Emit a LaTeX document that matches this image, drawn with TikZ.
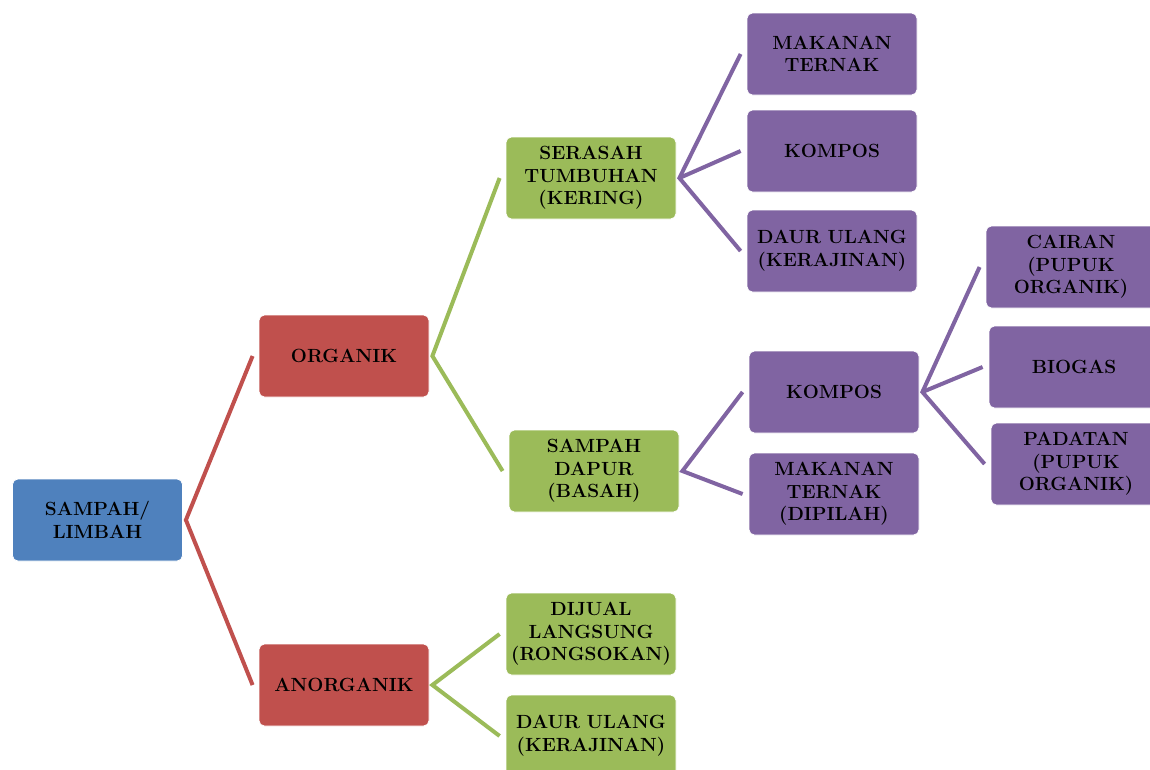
\documentclass[tikz,border=0pt]{standalone}
\usepackage{fontspec}
\definecolor{biru}{HTML}{4F81BD}
\definecolor{merah}{HTML}{C0504D}
\definecolor{hijau}{HTML}{9BBB59}
\definecolor{ungu}{HTML}{8064A2}
\tikzset{
  kotak/.style={rectangle, rounded corners=4pt, draw=white, line width=0.6pt, fill=#1,
    minimum width=127.5pt, minimum height=61.5pt, text width=127pt, align=center,
    inner sep=0pt, font=\fontsize{14.3}{17}\selectfont\bfseries},
  garis/.style={draw=#1, line width=3pt, line join=miter}
}

\begin{document}
\begin{tikzpicture}[x=0.75pt, y=-0.75pt]
        \useasboundingbox (0,0) rectangle (1150,769);

        \node[kotak=biru] (limbah) at (97.5,520) {SAMPAH/\\LIMBAH};
        \node[kotak=merah] (organik) at (344,356) {ORGANIK};
        \node[kotak=merah] (anorganik) at (344,685) {ANORGANIK};

        \node[kotak=hijau] (serasah) at (591,178) {SERASAH\\TUMBUHAN\\(KERING)};
        \node[kotak=hijau] (dapur) at (594,471) {SAMPAH\\DAPUR\\(BASAH)};
        \node[kotak=hijau] (dijual) at (591,634) {DIJUAL\\LANGSUNG\\(RONGSOKAN)};
        \node[kotak=hijau] (daurA) at (591,736) {DAUR ULANG\\(KERAJINAN)};

        \node[kotak=ungu] (ternakA) at (832,54) {MAKANAN\\TERNAK};
        \node[kotak=ungu] (komposA) at (832,151) {KOMPOS};
        \node[kotak=ungu] (daurB) at (832,251) {DAUR ULANG\\(KERAJINAN)};
        \node[kotak=ungu] (komposB) at (834,392) {KOMPOS};
        \node[kotak=ungu] (ternakB) at (834,494) {MAKANAN\\TERNAK\\(DIPILAH)};

        \node[kotak=ungu] (cairan) at (1071,267) {CAIRAN\\(PUPUK\\ORGANIK)};
        \node[kotak=ungu] (biogas) at (1074,367) {BIOGAS};
        \node[kotak=ungu] (padatan) at (1076,464) {PADATAN\\(PUPUK\\ORGANIK)};

        \foreach \p in {limbah, organik, anorganik, serasah, dapur, komposB}
        \coordinate (j-\p) at ([xshift=2.25pt]\p.east);

        \foreach \p/\a/\b/\c in {limbah/organik/anorganik/merah, organik/serasah/dapur/hijau,
          anorganik/dijual/daurA/hijau, serasah/ternakA/daurB/ungu, dapur/komposB/ternakB/ungu,
          komposB/cairan/padatan/ungu}
        \draw[garis=\c] ([xshift=-4.5pt]\a.west) -- (j-\p) -- ([xshift=-4.5pt]\b.west);

        \draw[garis=ungu] (j-serasah) -- ([xshift=-4.5pt]komposA.west);
        \draw[garis=ungu] (j-komposB) -- ([xshift=-4.5pt]biogas.west);
    \end{tikzpicture}
\end{document}
